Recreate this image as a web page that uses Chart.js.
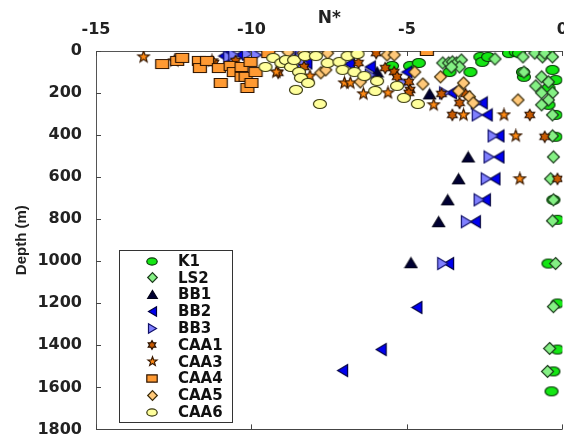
<!DOCTYPE html>
<html>
<head>
<meta charset="utf-8">
<script src="https://cdn.jsdelivr.net/npm/chart.js@4.4.0/dist/chart.umd.min.js"></script>
<style>
  body { margin: 0; overflow: hidden; background: #fff; }
</style>
</head>
<body>
<canvas id="nstar" width="572" height="445"></canvas>
<script>
// N* against depth, one list of [N*, depth (m)] per station
var k1 = [[-5.48,71],[-4.90,71],[-4.62,57],[-3.63,100],[-2.96,100],[-2.64,28],[-2.58,52],[-2.39,28],[-1.72,10],[-1.50,5],[-1.40,10],[-1.24,123],[-1.27,100],[-0.70,0],[-0.48,5],[-0.45,176],[-0.32,90],[-0.22,138],[-0.45,256],[-0.22,304],[-0.22,408],[-0.29,708],[-0.16,803],[-0.45,1011],[-0.16,1201],[-0.16,1420],[-0.29,1524],[-0.35,1619]];
var ls2 = [[-3.85,57],[-3.66,57],[-3.54,52],[-3.41,57],[-3.25,43],[-3.31,76],[-3.57,76],[-2.17,38],[-1.27,28],[-0.89,10],[-0.64,28],[-0.57,10],[-0.32,28],[-1.24,100],[-0.67,123],[-0.45,147],[-0.86,166],[-0.32,199],[-0.45,233],[-0.67,199],[-0.67,256],[-0.32,304],[-0.32,404],[-0.29,504],[-0.38,608],[-0.29,708],[-0.32,808],[-0.22,1011],[-0.29,1216],[-0.41,1415],[-0.48,1524]];
var bb1 = [[-8.5,14],[-5.96,100],[-4.27,204],[-3.03,504],[-3.34,608],[-3.69,708],[-3.98,812],[-4.87,1007]];
var bb2 = [[-10.89,24],[-10.35,19],[-8.22,57],[-6.85,62],[-6.18,76],[-5.00,100],[-3.57,199],[-2.58,247],[-2.42,304],[-2.04,404],[-2.04,504],[-2.17,608],[-2.48,708],[-2.80,812],[-3.66,1011],[-4.68,1220],[-5.83,1420],[-7.07,1520]];
var bb3 = [[-10.73,28],[-10.57,19],[-10.13,14],[-9.84,19],[-8.66,0],[-8.41,5],[-8.34,57],[-6.18,114],[-5.10,152],[-3.79,199],[-2.77,247],[-2.74,304],[-2.23,404],[-2.36,504],[-2.45,608],[-2.68,708],[-3.09,812],[-3.85,1011]];
var caa1 = [[-11.21,57],[-10.51,47],[-8.31,76],[-9.14,104],[-6.56,57],[-5.99,10],[-5.70,81],[-5.41,100],[-5.32,123],[-4.94,147],[-4.90,185],[-4.94,199],[-3.89,204],[-3.31,247],[-3.12,204],[-3.54,304],[-1.05,304],[-0.57,408],[-0.16,608]];
var caa3 = [[-13.47,28],[-12.48,47],[-11.27,47],[-9.20,100],[-8.12,119],[-7.01,152],[-6.82,152],[-6.40,204],[-5.61,199],[-4.14,256],[-3.18,304],[-1.88,304],[-1.50,404],[-1.37,608]];
var caa4 = [[-12.87,62],[-12.39,47],[-12.23,33],[-11.69,47],[-11.66,81],[-11.43,47],[-11.05,81],[-10.99,152],[-10.67,71],[-10.57,100],[-10.32,76],[-10.32,123],[-10.19,123],[-10.13,176],[-10.03,52],[-10.00,152],[-9.87,100],[-9.46,10],[-4.36,0]];
var caa5 = [[-8.82,5],[-8.34,10],[-7.55,10],[-7.77,104],[-7.61,90],[-6.50,147],[-5.64,19],[-5.41,19],[-4.75,100],[-4.49,157],[-3.92,123],[-3.18,152],[-3.34,190],[-2.99,218],[-2.87,247],[-1.43,233]];
var caa6 = [[-9.55,76],[-9.30,33],[-9.04,57],[-8.89,43],[-8.73,76],[-8.63,43],[-8.47,100],[-8.41,128],[-8.28,24],[-8.18,152],[-8.57,185],[-7.93,24],[-7.55,57],[-7.17,52],[-7.07,90],[-6.91,24],[-6.69,100],[-6.59,14],[-6.37,119],[-5.96,143],[-6.02,190],[-5.32,166],[-5.10,223],[-4.65,252],[-7.80,252]];

var stations = ['K1', 'LS2', 'BB1', 'BB2', 'BB3', 'CAA1', 'CAA3', 'CAA4', 'CAA5', 'CAA6'];
var profiles = [k1, ls2, bb1, bb2, bb3, caa1, caa3, caa4, caa5, caa6];
var nTicks = [-15, -10, -5, 0];
var depthTicks = [0, 200, 400, 600, 800, 1000, 1200, 1400, 1600, 1800];

// marker look per station: shape, fill, edge
var looks = [
  ['ellipse', '#14e614', '#0a3a0a'],
  ['diamond', '#84f084', '#1c3a1c'],
  ['up',      '#000033', '#000018'],
  ['left',    '#0000f0', '#000040'],
  ['right',   '#8080ff', '#10106a'],
  ['hex',     '#c85a00', '#2a1200'],
  ['star',    '#ff8a14', '#3a1a00'],
  ['rect',    '#ff9a33', '#2e1400'],
  ['diamond', '#ffc878', '#3a2a08'],
  ['ellipse', '#ffff9c', '#3a3a10']
];

var sizes = {
  ellipse: [13, 9], rect: [13, 9], diamond: [12, 12],
  up: [12, 10], left: [10, 12], right: [10, 12],
  hex: [11, 11], star: [12, 12]
};

function starPath(g, n, r, inner) {
  for (var k = 0; k < n * 2; k++) {
    var rr = k % 2 ? r * inner : r;
    var a = -Math.PI / 2 + k * Math.PI / n;
    var px = Math.cos(a) * rr, py = Math.sin(a) * rr;
    if (k === 0) g.moveTo(px, py); else g.lineTo(px, py);
  }
  g.closePath();
}

function marker(shape, fill, edge, s) {
  var w = sizes[shape][0] * s, h = sizes[shape][1] * s;
  var c = document.createElement('canvas');
  c.width = Math.ceil(w) + 3;
  c.height = Math.ceil(h) + 3;
  var g = c.getContext('2d');
  g.translate(c.width / 2, c.height / 2);
  g.beginPath();
  if (shape === 'ellipse') {
    g.ellipse(0, 0, w / 2, h / 2, 0, 0, Math.PI * 2);
  } else if (shape === 'rect') {
    g.rect(-w / 2, -h / 2, w, h);
  } else if (shape === 'diamond') {
    g.moveTo(0, -h / 2); g.lineTo(w / 2, 0); g.lineTo(0, h / 2); g.lineTo(-w / 2, 0); g.closePath();
  } else if (shape === 'up') {
    g.moveTo(0, -h / 2); g.lineTo(w / 2, h / 2); g.lineTo(-w / 2, h / 2); g.closePath();
  } else if (shape === 'left') {
    g.moveTo(-w / 2, 0); g.lineTo(w / 2, -h / 2); g.lineTo(w / 2, h / 2); g.closePath();
  } else if (shape === 'right') {
    g.moveTo(w / 2, 0); g.lineTo(-w / 2, -h / 2); g.lineTo(-w / 2, h / 2); g.closePath();
  } else if (shape === 'hex') {
    starPath(g, 6, w / 2, 0.577);
  } else if (shape === 'star') {
    starPath(g, 5, w / 2, 0.42);
  }
  g.fillStyle = fill;
  g.fill();
  g.lineWidth = 1.2;
  g.strokeStyle = edge;
  g.stroke();
  return c;
}

var plotMarks = looks.map(function (l) { return marker(l[0], l[1], l[2], 1); });
var keyMarks = looks.map(function (l) { return marker(l[0], l[1], l[2], 0.8); });

var tickFont = { family: "'DejaVu Sans', sans-serif", size: 16, weight: 'bold' };

// inward tick marks, lower frame line and the boxed key
var frame = {
  id: 'frame',
  afterDraw: function (chart) {
    var ctx = chart.ctx, a = chart.chartArea;
    var xs = chart.scales.x, ys = chart.scales.y;
    ctx.save();
    ctx.strokeStyle = '#444';
    ctx.lineWidth = 1;
    ctx.beginPath();
    ctx.moveTo(a.left, Math.round(a.bottom) + 0.5);
    ctx.lineTo(a.right, Math.round(a.bottom) + 0.5);
    nTicks.forEach(function (v) {
      var px = Math.round(xs.getPixelForValue(v)) + 0.5;
      ctx.moveTo(px, a.top); ctx.lineTo(px, a.top + 5);
      ctx.moveTo(px, a.bottom); ctx.lineTo(px, a.bottom - 5);
    });
    depthTicks.forEach(function (v) {
      var py = Math.round(ys.getPixelForValue(v)) + 0.5;
      ctx.moveTo(a.left, py); ctx.lineTo(a.left + 5, py);
    });
    ctx.stroke();

    // key
    var bx = 119.5, by = 250.5, bw = 113, bh = 172;
    ctx.fillStyle = '#fff';
    ctx.fillRect(bx, by, bw, bh);
    ctx.strokeStyle = '#333';
    ctx.strokeRect(bx, by, bw, bh);
    ctx.font = "bold 15px 'DejaVu Sans', sans-serif";
    ctx.textBaseline = 'middle';
    ctx.fillStyle = '#111';
    stations.forEach(function (name, i) {
      var ry = 261 + i * 16.8;
      var m = keyMarks[i];
      ctx.drawImage(m, Math.round(152 - m.width / 2), Math.round(ry - m.height / 2));
      ctx.fillText(name, 178, ry + 1);
    });
    ctx.restore();
  }
};

var datasets = stations.map(function (name, i) {
  return {
    label: name,
    data: profiles[i].map(function (p) { return { x: p[0], y: p[1] }; }),
    pointStyle: plotMarks[i],
    pointRadius: 6,
    pointHoverRadius: 6,
    showLine: false,
    order: stations.length - i
  };
});

function plainLabel(v) { return String(v); }

new Chart(document.getElementById('nstar'), {
  type: 'scatter',
  data: { datasets: datasets },
  options: {
    responsive: false,
    animation: false,
    layout: { padding: { left: 0, top: 0, right: 5, bottom: 15 } },
    plugins: { legend: { display: false }, tooltip: { enabled: false } },
    scales: {
      x: {
        type: 'linear',
        position: 'top',
        min: -15,
        max: 0,
        afterBuildTicks: function (s) { s.ticks = nTicks.map(function (v) { return { value: v }; }); },
        afterFit: function (s) { s.height = 51; },
        ticks: { font: tickFont, color: '#222', padding: 4, maxRotation: 0, callback: plainLabel },
        grid: { display: false },
        border: { display: true, color: '#555', width: 1 },
        title: {
          display: true,
          text: 'N*',
          color: '#222',
          font: { family: "'DejaVu Sans', sans-serif", size: 17, weight: 'bold' },
          padding: { top: 8, bottom: 0 }
        }
      },
      y: {
        type: 'linear',
        reverse: true,
        min: 0,
        max: 1800,
        afterBuildTicks: function (s) { s.ticks = depthTicks.map(function (v) { return { value: v }; }); },
        afterFit: function (s) { s.width = 96; },
        ticks: { font: tickFont, color: '#222', padding: 6, callback: plainLabel },
        grid: { display: false },
        border: { display: true, color: '#555', width: 1 },
        title: {
          display: true,
          text: 'Depth (m)',
          color: '#222',
          font: { family: "'Liberation Sans', Arial, sans-serif", size: 15, weight: 'bold' },
          padding: { top: 13, bottom: 0 }
        }
      }
    }
  },
  plugins: [frame]
});
</script>
</body>
</html>
